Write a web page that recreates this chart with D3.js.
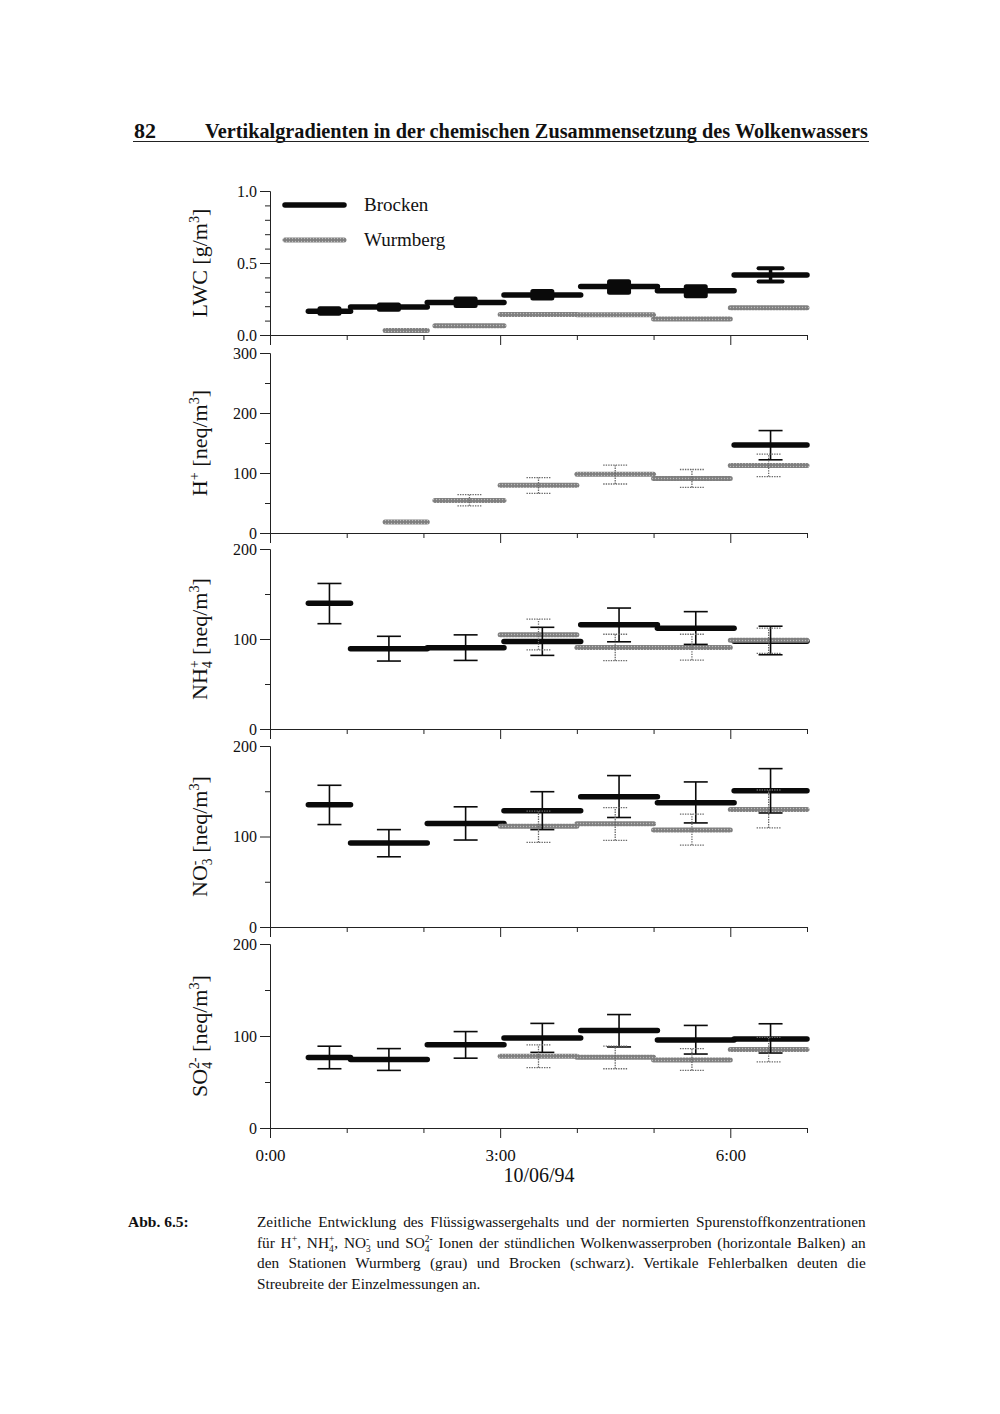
<!DOCTYPE html>
<html><head><meta charset="utf-8">
<script src="https://cdn.jsdelivr.net/npm/d3@7"></script>
<style>
body{margin:0;background:#fff}
svg{display:block}
text{font-family:"Liberation Serif","Times New Roman",serif;fill:#111;white-space:pre}
</style>
</head><body>
<svg id="c" width="1000" height="1414"></svg>
<script>
// ---------- DATA ----------
const blackStart = [0.5, 1.05, 2.05, 3.05, 4.05, 5.05, 6.05];
const blackEnd   = [1.05, 2.05, 3.05, 4.05, 5.05, 6.05, 7.0];
const grayStart  = [1.5, 2.15, 3.0, 4.0, 5.0, 6.0];
const grayEnd    = [2.05, 3.05, 4.0, 5.0, 6.0, 7.0];

const lwcBrocken   = [0.165, 0.195, 0.226, 0.278, 0.337, 0.307, 0.416];
const lwcBrockenLo = [0.134, 0.162, 0.187, 0.240, 0.279, 0.256, 0.372];
const lwcBrockenHi = [0.199, 0.226, 0.268, 0.319, 0.388, 0.353, 0.464];
const lwcBrockenBox = [true, true, true, true, true, true, false];
const lwcWurmberg  = [0.032, 0.065, 0.143, 0.141, 0.111, 0.190];

const hBrocken    = [null, null, null, null, null, null, 146.6];
const hBrockenLo  = [null, null, null, null, null, null, 122];
const hBrockenHi  = [null, null, null, null, null, null, 170.7];
const hWurmberg   = [18.5, 54.3, 79.5, 98, 90.7, 112.5];
const hWurmbergLo = [null, 45.3, 66, 81.7, 76, 94];
const hWurmbergHi = [null, 63.8, 92.3, 113, 105.8, 131.5];

const nh4Brocken    = [139.6, 89.1, 90.2, 97.2, 115.7, 112, 97.5];
const nh4BrockenLo  = [117, 75.5, 76.2, 81.8, 96.9, 94, 82.5];
const nh4BrockenHi  = [161.7, 103, 104.6, 113, 134.4, 130.4, 114.2];
const nh4Wurmberg   = [null, null, 104.6, 90.6, 90.6, 98.5];
const nh4WurmbergLo = [null, null, 88, 75.9, 76.6, 84];
const nh4WurmbergHi = [null, null, 122, 105.3, 105.3, 112];

const no3Brocken    = [135, 92.8, 114.3, 128.4, 144, 137.3, 150.6];
const no3BrockenLo  = [113.2, 77.6, 96.1, 107.6, 121, 115, 126];
const no3BrockenHi  = [156.6, 107.6, 132.8, 149.5, 167.3, 160.3, 175];
const no3Wurmberg   = [null, null, 111.3, 114, 107.2, 129.9];
const no3WurmbergLo = [null, null, 93.5, 95.7, 90.5, 109.5];
const no3WurmbergHi = [null, null, 128, 132, 124.7, 151.4];

const so4Brocken    = [76.7, 74.4, 90.4, 97.8, 105.9, 95.6, 96.7];
const so4BrockenLo  = [64.4, 62.6, 75.9, 82.2, 88.1, 80.4, 81.5];
const so4BrockenHi  = [88.9, 86.3, 104.8, 113.7, 123.3, 111.5, 113.3];
const so4Wurmberg   = [null, null, 78.1, 77, 74, 85.2];
const so4WurmbergLo = [null, null, 65.6, 64.4, 62.6, 71.9];
const so4WurmbergHi = [null, null, 90.4, 88.9, 86.3, 98.5];

const xMajorTicks = [0, 3, 6];
const xMajorLabels = ["0:00", "3:00", "6:00"];
const xMinorTicks = [1, 2, 4, 5, 7];
const dateLabel = "10/06/94";
const seriesNames = ["Brocken", "Wurmberg"];

const pageNo = "82";
const titleText = "Vertikalgradienten in der chemischen Zusammensetzung des Wolkenwassers";
const captionLabel = "Abb. 6.5:";

// ---------- SETUP ----------
const svg = d3.select("#c");
const defs = svg.append("defs");
const pat = defs.append("pattern").attr("id","stip").attr("patternUnits","userSpaceOnUse")
  .attr("width",3).attr("height",3);
pat.append("rect").attr("width",3).attr("height",3).attr("fill","#7f7f7f");
pat.append("circle").attr("cx",1.5).attr("cy",1.5).attr("r",0.7).attr("fill","#bdbdbd");
const GRAY = "url(#stip)";

const x = d3.scaleLinear().domain([0, 7]).range([270, 807]);

function rich(textSel, parts, size){
  let cur = 0; let pendingDx = 0;
  parts.forEach(p=>{
    if (typeof p === "string"){
      textSel.append("tspan").attr("dy", -cur).attr("dx", pendingDx).attr("font-size", size).text(p);
      cur = 0; pendingDx = 0;
    } else if (p.sup !== undefined && p.sub === undefined){
      const t = -0.38*size;
      textSel.append("tspan").attr("dy", t-cur).attr("dx", pendingDx).attr("font-size", size*0.65).text(p.sup);
      cur = t; pendingDx = 0;
    } else if (p.sub !== undefined && p.sup === undefined){
      const t = 0.22*size;
      textSel.append("tspan").attr("dy", t-cur).attr("dx", pendingDx).attr("font-size", size*0.65).text(p.sub);
      cur = t; pendingDx = 0;
    } else {
      const t1 = -0.38*size;
      const s1 = textSel.append("tspan").attr("dy", t1-cur).attr("dx", pendingDx).attr("font-size", size*0.62).text(p.sup);
      cur = t1;
      const w1 = s1.node().getComputedTextLength();
      const t2 = 0.24*size;
      const s2 = textSel.append("tspan").attr("dy", t2-cur).attr("dx", -w1).attr("font-size", size*0.62).text(p.sub);
      cur = t2;
      const w2 = s2.node().getComputedTextLength();
      pendingDx = Math.max(0, w1 - w2);
    }
  });
}

// ---------- HEADER ----------
svg.append("text").attr("x",134).attr("y",138).attr("font-weight","bold").attr("font-size",22).text(pageNo);
const title = svg.append("text").attr("x",205).attr("y",138).attr("font-weight","bold").attr("font-size",22).text(titleText);
{
  const w = title.node().getComputedTextLength();
  title.attr("font-size", 22*663/w);
}
svg.append("line").attr("x1",133).attr("x2",869).attr("y1",141.5).attr("y2",141.5).attr("stroke","#222").attr("stroke-width",1.2);

// ---------- PANELS ----------
const panels = [
  {top:191, bottom:335, domain:[0,1], major:[0,0.5,1], minor:d3.range(1,10).filter(i=>i!==5).map(i=>i/10), fmt:d3.format(".1f"),
   label:["LWC [g/m",{sup:"3"},"]"],
   b:lwcBrocken, bLo:lwcBrockenLo, bHi:lwcBrockenHi, box:lwcBrockenBox, w:lwcWurmberg, wLo:null, wHi:null},
  {top:353, bottom:533, domain:[0,300], major:[0,100,200,300], minor:[50,150,250], fmt:d3.format("d"),
   label:["H",{sup:"+"}," [neq/m",{sup:"3"},"]"],
   b:hBrocken, bLo:hBrockenLo, bHi:hBrockenHi, w:hWurmberg, wLo:hWurmbergLo, wHi:hWurmbergHi},
  {top:549, bottom:729, domain:[0,200], major:[0,100,200], minor:[50,150], fmt:d3.format("d"),
   label:["NH",{sup:"+",sub:"4"}," [neq/m",{sup:"3"},"]"],
   b:nh4Brocken, bLo:nh4BrockenLo, bHi:nh4BrockenHi, w:nh4Wurmberg, wLo:nh4WurmbergLo, wHi:nh4WurmbergHi},
  {top:746, bottom:927, domain:[0,200], major:[0,100,200], minor:[50,150], fmt:d3.format("d"),
   label:["NO",{sup:"-",sub:"3"}," [neq/m",{sup:"3"},"]"],
   b:no3Brocken, bLo:no3BrockenLo, bHi:no3BrockenHi, w:no3Wurmberg, wLo:no3WurmbergLo, wHi:no3WurmbergHi},
  {top:944, bottom:1128, domain:[0,200], major:[0,100,200], minor:[50,150], fmt:d3.format("d"),
   label:["SO",{sup:"2-",sub:"4"}," [neq/m",{sup:"3"},"]"],
   b:so4Brocken, bLo:so4BrockenLo, bHi:so4BrockenHi, w:so4Wurmberg, wLo:so4WurmbergLo, wHi:so4WurmbergHi}
];

function styleAxis(g, size){
  g.attr("font-family",'"Liberation Serif","Times New Roman",serif').attr("font-size",size);
  g.selectAll("line,path").attr("stroke","#222").attr("stroke-width",1);
  g.selectAll("text").attr("fill","#111");
}

panels.forEach((p, pi)=>{
  const last = pi === panels.length-1;
  const y = d3.scaleLinear().domain(p.domain).range([p.bottom, p.top]);
  const g = svg.append("g");

  // axes
  g.append("g").attr("transform",`translate(${x(0)},0)`)
    .call(d3.axisLeft(y).tickValues(p.minor).tickSize(5).tickFormat("").tickSizeOuter(0)).call(s=>styleAxis(s,16));
  g.append("g").attr("transform",`translate(${x(0)},0)`)
    .call(d3.axisLeft(y).tickValues(p.major).tickSize(10).tickPadding(3).tickFormat(p.fmt).tickSizeOuter(0)).call(s=>styleAxis(s,16));
  g.append("g").attr("transform",`translate(0,${p.bottom})`)
    .call(d3.axisBottom(x).tickValues(xMinorTicks).tickSize(5).tickFormat("").tickSizeOuter(0)).call(s=>styleAxis(s,17));
  g.append("g").attr("transform",`translate(0,${p.bottom})`)
    .call(d3.axisBottom(x).tickValues(xMajorTicks).tickSize(10).tickPadding(11)
      .tickFormat((d,i)=> last ? xMajorLabels[i] : "").tickSizeOuter(0)).call(s=>styleAxis(s,17));

  // y label
  const lab = svg.append("g").attr("transform",`translate(207,${(p.top+p.bottom)/2}) rotate(-90)`)
    .append("text").attr("text-anchor","middle").attr("x",0).attr("y",0);
  rich(lab, p.label, 22);

  // Brocken bars
  const bIdx = d3.range(p.b.length).filter(i=>p.b[i]!==null);
  g.append("g").selectAll("line").data(bIdx).join("line")
    .attr("x1",i=>x(blackStart[i])).attr("x2",i=>x(blackEnd[i]))
    .attr("y1",i=>y(p.b[i])).attr("y2",i=>y(p.b[i]))
    .attr("stroke","#0a0a0a").attr("stroke-width",5.5).attr("stroke-linecap","round");

  // Wurmberg bars
  const wIdx = d3.range(p.w.length).filter(i=>p.w[i]!==null);
  g.append("g").selectAll("line").data(wIdx).join("line")
    .attr("x1",i=>x(grayStart[i])).attr("x2",i=>x(grayEnd[i]))
    .attr("y1",i=>y(p.w[i])).attr("y2",i=>y(p.w[i]))
    .attr("stroke",GRAY).attr("stroke-width",5).attr("stroke-linecap","round");

  // Brocken error bars
  const be = bIdx.filter(i=>p.bLo[i]!==null);
  const beg = g.append("g");
  be.forEach(i=>{
    const cx = x((blackStart[i]+blackEnd[i])/2);
    if (p.box && p.box[i]){
      beg.append("rect").attr("x",cx-12).attr("width",24)
        .attr("y",y(p.bHi[i])).attr("height",y(p.bLo[i])-y(p.bHi[i]))
        .attr("rx",2.5).attr("fill","#0a0a0a");
    } else {
      const sw = p.box ? 3.5 : 1.6;
      const capW = p.box ? 4 : 1.6;
      beg.append("line").attr("x1",cx).attr("x2",cx).attr("y1",y(p.bLo[i])).attr("y2",y(p.bHi[i]))
        .attr("stroke","#0a0a0a").attr("stroke-width",sw);
      [p.bLo[i], p.bHi[i]].forEach(v=>{
        beg.append("line").attr("x1",cx-12).attr("x2",cx+12).attr("y1",y(v)).attr("y2",y(v))
          .attr("stroke","#0a0a0a").attr("stroke-width",capW).attr("stroke-linecap", p.box ? "round" : "butt");
      });
    }
  });

  // Wurmberg error bars (dotted)
  if (p.wLo){
    const we = wIdx.filter(i=>p.wLo[i]!==null);
    const weg = g.append("g").attr("stroke","#6a6a6a").attr("stroke-width",1.3).attr("stroke-dasharray","1.4,1.1");
    we.forEach(i=>{
      const cx = x((grayStart[i]+grayEnd[i])/2);
      weg.append("line").attr("x1",cx).attr("x2",cx).attr("y1",y(p.wLo[i])).attr("y2",y(p.wHi[i]));
      [p.wLo[i], p.wHi[i]].forEach(v=>{
        weg.append("line").attr("x1",cx-12).attr("x2",cx+12).attr("y1",y(v)).attr("y2",y(v));
      });
    });
  }
});

// date label
svg.append("text").attr("x",539).attr("y",1182).attr("text-anchor","middle").attr("font-size",20).text(dateLabel);

// legend
const leg = svg.append("g");
[{n:seriesNames[0], c:"#0a0a0a", w:5.5, y:205},{n:seriesNames[1], c:GRAY, w:5, y:240}].forEach(d=>{
  leg.append("line").attr("x1",285).attr("x2",344).attr("y1",d.y).attr("y2",d.y)
    .attr("stroke",d.c).attr("stroke-width",d.w).attr("stroke-linecap","round");
  leg.append("text").attr("x",364).attr("y",d.y+6).attr("font-size",19).text(d.n);
});

// ---------- CAPTION ----------
svg.append("text").attr("x",128).attr("y",1227).attr("font-weight","bold").attr("font-size",15.5).text(captionLabel);
const capLines = [
  {parts:["Zeitliche Entwicklung des Flüssigwassergehalts und der normierten Spurenstoffkonzentrationen"], justify:true},
  {parts:["für H",{sup:"+"},", NH",{sup:"+",sub:"4"},", NO",{sup:"-",sub:"3"}," und SO",{sup:"2-",sub:"4"}," Ionen der stündlichen Wolkenwasserproben (horizontale Balken) an"], justify:true},
  {parts:["den Stationen Wurmberg (grau) und Brocken (schwarz). Vertikale Fehlerbalken deuten die"], justify:true},
  {parts:["Streubreite der Einzelmessungen an."], justify:false}
];
const capBase = [1227, 1248, 1268, 1289];
capLines.forEach((l,i)=>{
  const t = svg.append("text").attr("x",257).attr("y",capBase[i]).attr("font-size",15.3);
  rich(t, l.parts, 15.3);
  if (l.justify){
    const w = t.node().getBBox().width;
    const full = l.parts.map(p=> typeof p==="string"? p : "").join("");
    const nSp = (full.match(/ /g)||[]).length;
    if (nSp>0) t.style("word-spacing", ((866-257) - w)/nSp + "px");
  }
});
</script>
</body></html>
